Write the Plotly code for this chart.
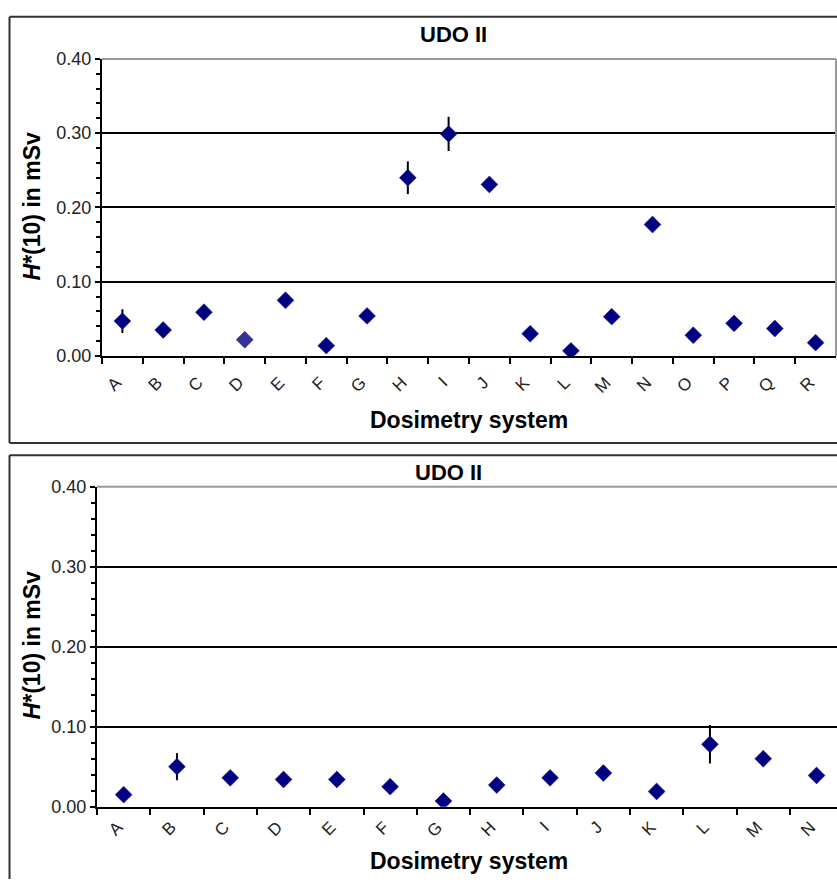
import plotly.graph_objects as go

# ---- data ----
top_systems = list("ABCDEFGHIJKLMNOPQR")
top_values = [0.047, 0.035, 0.059, 0.022, 0.075, 0.014, 0.054, 0.240, 0.299,
              0.231, 0.030, 0.007, 0.053, 0.177, 0.028, 0.044, 0.037, 0.018]
top_errors = [0.016, 0, 0, 0, 0, 0, 0, 0.022, 0.023,
              0, 0, 0, 0, 0, 0, 0, 0, 0]

bottom_systems = list("ABCDEFGHIJKLMN")
bottom_values = [0.015, 0.050, 0.036, 0.034, 0.034, 0.025, 0.007, 0.027,
                 0.036, 0.042, 0.019, 0.078, 0.060, 0.039]
bottom_errors = [0, 0.017, 0, 0, 0, 0, 0, 0, 0, 0, 0, 0.024, 0, 0]

y_ticks = [0.0, 0.1, 0.2, 0.3, 0.4]
chart_title = "UDO II"
x_title = "Dosimetry system"
y_title = "<i>H</i>*(10) in mSv"

# ---- layout helpers: page pixels -> paper (figure fills the page) ----
FW, FH = 837, 889
def px(x):
    return min(max(x / FW, 0.0), 1.0)
def py(y):
    return min(max(1 - y / FH, 0.0), 1.0)

FONT = "Arial, 'Liberation Sans', sans-serif"
NAVY = "#000080"

fig = go.Figure()

top_colors = ["#333399" if s == "D" else NAVY for s in top_systems]

fig.add_trace(go.Scatter(
    x=top_systems, y=top_values, mode="markers",
    marker=dict(symbol="diamond", size=13, color=top_colors,
                line=dict(width=0.5, color="#1a1a8c")),
    error_y=dict(type="data", array=top_errors, visible=True,
                 color="black", thickness=2, width=0),
    xaxis="x", yaxis="y", showlegend=False,
))
fig.add_trace(go.Scatter(
    x=bottom_systems, y=bottom_values, mode="markers",
    marker=dict(symbol="diamond", size=13, color=NAVY,
                line=dict(width=0.5, color="#1a1a8c")),
    error_y=dict(type="data", array=bottom_errors, visible=True,
                 color="black", thickness=2, width=0),
    xaxis="x2", yaxis="y2", showlegend=False,
))

def xaxis_cfg(domain, cats, rng, standoff):
    return dict(
        domain=domain, type="category", categoryorder="array",
        categoryarray=cats, range=rng, tickangle=-45,
        tickson="boundaries", ticks="outside", ticklen=6, tickwidth=2,
        tickcolor="black", showline=True, linecolor="black", linewidth=2,
        showgrid=False, zeroline=False,
        ticklabelstandoff=standoff, ticklabelshift=-6,
        tickfont=dict(family=FONT, size=17, color="#222"), fixedrange=True,
    )

def yaxis_cfg(domain, anchor):
    return dict(
        domain=domain, anchor=anchor, range=[0, 0.4], tickvals=y_ticks,
        tickformat=".2f", ticks="outside", ticklen=5, tickwidth=2,
        tickcolor="black", showline=True, linecolor="black", linewidth=2,
        showgrid=True, gridcolor="black", gridwidth=2, zeroline=False,
        minor=dict(ticks="outside", dtick=0.02, ticklen=4, tickwidth=1.5,
                   tickcolor="black", showgrid=False),
        tickfont=dict(family=FONT, size=18, color="#222"), fixedrange=True,
    )

# plot areas in page pixels; the lower one runs a little past the page edge
top_left, top_right = 102, 836
bot_left, bot_step = 97, 53.3

top_dom_x = [px(top_left), px(top_right)]
top_dom_y = [py(354), py(50)]
top_range = [-0.5, 17.5]

bot_dom_x = [px(bot_left), 1.0]
bot_dom_y = [py(815), py(487.7)]
bot_range = [-0.5, -0.5 + (FW - bot_left) / bot_step]

fig.update_layout(
    width=FW, height=FH,
    margin=dict(l=0, r=0, t=0, b=0),
    paper_bgcolor="white", plot_bgcolor="white",
    font=dict(family=FONT, color="black"),
    xaxis=dict(xaxis_cfg(top_dom_x, top_systems, top_range, 8), anchor="y"),
    yaxis=yaxis_cfg(top_dom_y, "x"),
    xaxis2=dict(xaxis_cfg(bot_dom_x, bottom_systems, bot_range, 2), anchor="y2"),
    yaxis2=yaxis_cfg(bot_dom_y, "x2"),
)

BOX = dict(color="#333", width=2)
shapes = []
# outer chart boxes (left, top, bottom edges; right side is off the page)
for top_y, bot_y in ((7, 443), (455.5, 889)):
    shapes.append(dict(type="line", xref="paper", yref="paper",
                       x0=px(9.5), x1=px(9.5), y0=py(bot_y), y1=py(top_y), line=BOX))
    shapes.append(dict(type="line", xref="paper", yref="paper",
                       x0=px(9.5), x1=1.0, y0=py(top_y), y1=py(top_y), line=BOX))
    if bot_y < FH:
        shapes.append(dict(type="line", xref="paper", yref="paper",
                           x0=px(9.5), x1=1.0, y0=py(bot_y), y1=py(bot_y), line=BOX))
# grey plot-area borders
shapes.append(dict(type="line", xref="x domain", yref="y domain", x0=0, x1=1, y0=1, y1=1,
                   line=dict(color="#999", width=2), layer="above"))
shapes.append(dict(type="line", xref="x domain", yref="y domain", x0=1, x1=1, y0=0, y1=1,
                   line=dict(color="#999", width=2), layer="above"))
shapes.append(dict(type="line", xref="x2 domain", yref="y2 domain", x0=0, x1=1, y0=1, y1=1,
                   line=dict(color="#999", width=2), layer="above"))
fig.update_layout(shapes=shapes)

ann = []
for ty, xt, yc, xtitle_y, xt_x in ((25, 453, 201, 419, 469),
                                    (473, 448, 650, 871, 469)):
    ann.append(dict(text="<b>" + chart_title + "</b>", xref="paper", yref="paper",
                    x=px(xt), y=py(ty), showarrow=False,
                    font=dict(family=FONT, size=22, color="black"),
                    xanchor="center", yanchor="middle"))
    ann.append(dict(text="<b>" + x_title + "</b>", xref="paper", yref="paper",
                    x=px(xt_x), y=py(xtitle_y), showarrow=False,
                    font=dict(family=FONT, size=23, color="black"),
                    xanchor="center", yanchor="middle"))
    ann.append(dict(text="<b>" + y_title + "</b>", xref="paper", yref="paper",
                    x=px(32), y=py(yc), showarrow=False, textangle=-90,
                    font=dict(family=FONT, size=23, color="black"),
                    xanchor="center", yanchor="middle"))
fig.update_layout(annotations=ann)

fig.write_html(
    "out.html",
    config={"displayModeBar": False},
    post_script="document.body.style.margin='0';document.documentElement.style.overflow='hidden';",
)
